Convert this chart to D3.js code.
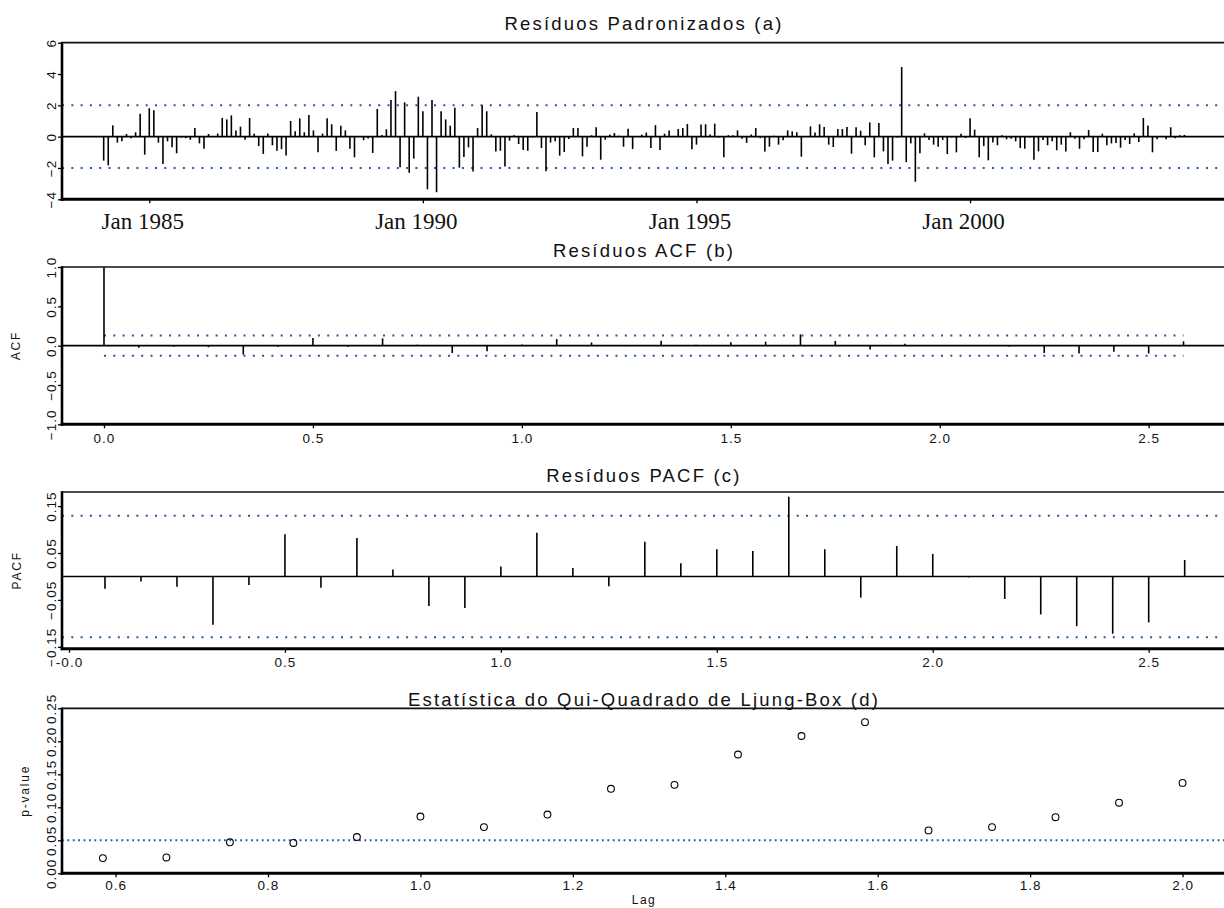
<!DOCTYPE html>
<html>
<head>
<meta charset="utf-8">
<script src="https://cdn.jsdelivr.net/npm/d3@7"></script>
<style>
  html, body { margin: 0; padding: 0; background: #fff; }
  svg { display: block; }
</style>
</head>
<body>
<svg id="chart" width="1224" height="908"></svg>
<script>
// ---------- data ----------
// standardized residuals, monthly, starting March 1984
const seriesStartYear = 1984;
const seriesStartMonth = 3;
const residuals = [
  -1.53, -1.83, 0.72, -0.38, -0.30, 0.17, -0.10, 0.28, 1.47, -1.15,
  1.81, 1.68, -0.38, -1.74, -0.30, -0.68, -1.06, -0.05, -0.10, -0.20,
  0.55, -0.43, -0.77, 0.17, 0.05, 0.20, 1.20, 1.10, 1.36, 0.40,
  0.64, -0.20, 1.19, 0.19, -0.60, -1.10, 0.20, -0.55, -0.90, -0.80,
  -1.20, 1.00, 0.34, 1.17, 0.28, 1.38, 0.40, -1.00, 0.20, 1.17,
  0.79, -0.91, 0.70, 0.40, -0.77, -1.32, -0.02, -0.23, -0.12, -1.04,
  1.77, 0.10, 0.47, 2.34, 2.91, -1.96, 2.19, -2.30, -1.40, 2.55,
  1.62, -3.36, 2.34, -3.55, 1.62, 1.10, 0.70, 1.85, -1.98, -1.30,
  -0.68, -2.23, 0.55, 2.00, 1.62, 0.15, -0.94, -0.90, -1.91, -0.26,
  0.09, -0.47, -0.85, -0.90, -0.05, 1.57, -0.72, -2.21, -0.38, -0.30,
  -1.21, -0.98, -0.15, 0.55, 0.55, -1.26, -0.64, 0.09, 0.60, -1.47,
  -0.20, 0.13, 0.23, 0.06, -0.64, 0.51, -0.79, 0.05, 0.13, 0.26,
  -0.72, 0.74, -0.85, 0.19, 0.40, 0.05, 0.49, 0.55, 0.81, -0.81,
  -0.51, 0.77, 0.79, 0.13, 0.83, -0.05, -1.32, 0.09, 0.09, 0.40,
  -0.13, -0.40, 0.13, 0.55, -0.10, -0.94, -0.64, 0.06, -0.51, -0.23,
  0.40, 0.34, 0.28, -1.28, 0.05, 0.66, 0.26, 0.79, 0.62, -0.51,
  -0.66, 0.49, 0.49, 0.62, -1.09, 0.60, 0.38, -0.55, 0.91, -1.32,
  0.87, -0.94, -1.74, -1.53, -0.05, 4.45, -1.63, -0.43, -2.88, -1.06,
  0.21, -0.21, -0.51, -0.64, -0.21, -1.11, -0.05, -1.00, 0.19, -0.09,
  1.17, 0.45, -1.32, -0.60, -1.51, -0.38, -0.55, 0.09, -0.17, -0.13,
  -0.30, -0.72, -0.77, -0.05, -1.47, -0.94, -0.21, -0.55, -0.30, -0.87,
  -0.51, -0.94, 0.28, -0.13, -0.77, -0.17, 0.43, -0.98, -0.98, 0.19,
  -0.55, -0.43, -0.40, -0.70, -0.21, -0.47, 0.21, -0.34, 1.19, 0.72,
  -1.00, -0.17, 0.05, -0.17, 0.60, -0.10, 0.09, 0.11
];
const residualLimit = 2;
const dateTickYears = [1985, 1990, 1995, 2000];
const residualTicks = [-4, -2, 0, 2, 4, 6];

// autocorrelations of the residuals, lags 0..31 months (in years)
const acfValues = [
  1.0, -0.026, -0.012, -0.020, -0.114, -0.015, 0.097, -0.015, 0.093, 0.012,
  -0.093, -0.070, 0.015, 0.084, 0.040, -0.008, 0.063, 0.012, 0.042, 0.050,
  0.143, 0.060, -0.050, 0.025, 0.006, 0.008, -0.012, -0.093, -0.100, -0.076,
  -0.100, 0.055
];
const acfTicks = [-1, -0.5, 0, 0.5, 1];

// partial autocorrelations, lags 1..31 months
const pacfValues = [
  -0.026, -0.011, -0.022, -0.103, -0.018, 0.090, -0.024, 0.082, 0.015, -0.063,
  -0.067, 0.021, 0.093, 0.018, -0.021, 0.074, 0.028, 0.058, 0.054, 0.170,
  0.058, -0.045, 0.065, 0.048, -0.002, -0.048, -0.081, -0.106, -0.122, -0.098,
  0.035
];
const pacfTicks = [-0.15, -0.05, 0.05, 0.15];
const corrBand = 0.1296;          // 2 / sqrt(n)
const lagTicks = [0, 0.5, 1, 1.5, 2, 2.5];

// Ljung-Box p-values, lags 7..24 months
const lbFirstLag = 7;
const lbPValues = [
  0.023, 0.024, 0.047, 0.046, 0.055, 0.086, 0.070, 0.089, 0.128, 0.134,
  0.180, 0.208, 0.229, 0.065, 0.070, 0.085, 0.107, 0.137
];
const lbLevel = 0.05;
const lbYTicks = [0, 0.05, 0.10, 0.15, 0.20, 0.25];
const lbXTicks = [0.6, 0.8, 1.0, 1.2, 1.4, 1.6, 1.8, 2.0];

const titles = [
  "Resíduos Padronizados (a)",
  "Resíduos ACF (b)",
  "Resíduos PACF (c)",
  "Estatística do Qui-Quadrado de Ljung-Box (d)"
];

// ---------- layout ----------
const svg = d3.select("#chart");
const LEFT = 62, RIGHT = 1226, MID = (LEFT + RIGHT) / 2;
const SANS = "'Liberation Sans', Arial, Helvetica, sans-serif";
const SERIF = "'Liberation Serif', 'Times New Roman', serif";
const BLUE = "#22599a";

svg.append("rect").attr("width", 1224).attr("height", 908).attr("fill", "#fff");

function frame(top, bottom) {
  const g = svg.append("g");
  g.append("line").attr("x1", LEFT).attr("x2", RIGHT).attr("y1", top).attr("y2", top)
    .attr("stroke", "#111").attr("stroke-width", 1.7);
  g.append("line").attr("x1", LEFT).attr("x2", LEFT).attr("y1", top - 0.8).attr("y2", bottom + 1.5)
    .attr("stroke", "#000").attr("stroke-width", 2.6);
  g.append("line").attr("x1", LEFT - 1.3).attr("x2", RIGHT).attr("y1", bottom).attr("y2", bottom)
    .attr("stroke", "#000").attr("stroke-width", 3);
}

function title(text, y) {
  svg.append("text").attr("x", MID).attr("y", y).attr("text-anchor", "middle")
    .attr("font-family", SANS).attr("font-size", 18.5).attr("letter-spacing", 2.2)
    .attr("fill", "#111").text(text);
}

function leftAxis(scale, values, fmt) {
  const g = svg.append("g").attr("transform", `translate(${LEFT},0)`)
    .call(d3.axisLeft(scale).tickValues(values).tickFormat(fmt).tickSize(4).tickPadding(0));
  g.select(".domain").remove();
  g.selectAll(".tick line").attr("stroke", "#000").attr("stroke-width", 1.3);
  g.selectAll(".tick text")
    .attr("x", 0).attr("dy", null).attr("y", -6)
    .attr("transform", "rotate(-90)")
    .attr("text-anchor", "middle")
    .attr("font-family", SANS).attr("font-size", 13.5).attr("letter-spacing", 1)
    .attr("fill", "#111");
  return g;
}

function bottomAxis(scale, y, values, fmt, baseline, font) {
  const g = svg.append("g").attr("transform", `translate(0,${y})`)
    .call(d3.axisBottom(scale).tickValues(values).tickFormat(fmt).tickSize(4).tickPadding(0));
  g.select(".domain").remove();
  g.selectAll(".tick line").attr("stroke", "#000").attr("stroke-width", 1.3);
  g.selectAll(".tick text")
    .attr("dy", null).attr("y", baseline - y)
    .attr("text-anchor", "middle")
    .attr("font-family", font.family).attr("font-size", font.size)
    .attr("letter-spacing", font.spacing || 0)
    .attr("fill", "#111");
  return g;
}

function hLine(x1, x2, y, dash, color, width) {
  svg.append("line").attr("x1", x1).attr("x2", x2).attr("y1", y).attr("y2", y)
    .attr("stroke", color).attr("stroke-width", width)
    .attr("stroke-dasharray", dash);
}

function yLabel(text, x, y) {
  svg.append("text").attr("transform", `translate(${x},${y}) rotate(-90)`)
    .attr("text-anchor", "middle").attr("font-family", SANS).attr("font-size", 12)
    .attr("letter-spacing", 1.8).attr("fill", "#111").text(text);
}

// ---------- (a) standardized residuals ----------
const yearOf = i => seriesStartYear + (seriesStartMonth - 1) / 12 + i / 12;
const xA = d3.scaleLinear().domain([1983.405, 2004.677]).range([LEFT, RIGHT]);
const yA = d3.scaleLinear().domain([-4, 6]).range([199.3, 42.7]);

title(titles[0], 29.5);
hLine(LEFT, RIGHT, yA(0), null, "#000", 1.6);
hLine(LEFT, RIGHT, yA(residualLimit), "2,7.3", BLUE, 2);
hLine(LEFT, RIGHT, yA(-residualLimit), "2,7.3", BLUE, 2);
svg.append("g").selectAll("line").data(residuals).join("line")
  .attr("x1", (d, i) => xA(yearOf(i))).attr("x2", (d, i) => xA(yearOf(i)))
  .attr("y1", yA(0)).attr("y2", d => yA(d))
  .attr("stroke", "#000").attr("stroke-width", 1.6);
frame(42.7, 199.3);
leftAxis(yA, residualTicks, d3.format("d"));
bottomAxis(xA, 199.3, dateTickYears, d => "Jan " + d, 229.5,
  { family: SERIF, size: 23 })
  .selectAll(".tick text").attr("x", -7);

// ---------- (b) ACF ----------
const xB = d3.scaleLinear().domain([-0.1005, 2.685]).range([LEFT, RIGHT]);
const yB = d3.scaleLinear().domain([-1, 1]).range([424.3, 267]);
const acfLags = acfValues.map((d, i) => i / 12);

title(titles[1], 256.7);
hLine(LEFT, RIGHT, yB(0), null, "#000", 1.6);
hLine(xB(0), xB(acfLags[acfLags.length - 1]), yB(corrBand), "2,7.3", BLUE, 2);
hLine(xB(0), xB(acfLags[acfLags.length - 1]), yB(-corrBand), "2,7.3", BLUE, 2);
svg.append("g").selectAll("line").data(acfValues).join("line")
  .attr("x1", (d, i) => xB(acfLags[i])).attr("x2", (d, i) => xB(acfLags[i]))
  .attr("y1", yB(0)).attr("y2", d => yB(d))
  .attr("stroke", "#000").attr("stroke-width", 1.6);
frame(267, 424.3);
leftAxis(yB, acfTicks, d3.format(".1f"));
bottomAxis(xB, 424.3, lagTicks, d3.format(".1f"), 442.7,
  { family: SANS, size: 13.5, spacing: 1 });
yLabel("ACF", 20, (267 + 424.3) / 2);

// ---------- (c) PACF ----------
const xC = d3.scaleLinear().domain([-0.0162, 2.679]).range([LEFT, RIGHT]);
const yC = d3.scaleLinear().domain([-0.154, 0.180]).range([648.7, 492]);
const pacfLags = pacfValues.map((d, i) => (i + 1) / 12);

title(titles[2], 482);
hLine(LEFT, RIGHT, yC(0), null, "#000", 1.6);
hLine(LEFT, RIGHT, yC(corrBand), "2,7.3", BLUE, 2);
hLine(LEFT, RIGHT, yC(-corrBand), "2,7.3", BLUE, 2);
svg.append("g").selectAll("line").data(pacfValues).join("line")
  .attr("x1", (d, i) => xC(pacfLags[i])).attr("x2", (d, i) => xC(pacfLags[i]))
  .attr("y1", yC(0)).attr("y2", d => yC(d))
  .attr("stroke", "#000").attr("stroke-width", 1.6);
frame(492, 648.7);
leftAxis(yC, pacfTicks, d3.format(".2f"));
bottomAxis(xC, 648.7, lagTicks, d => d === 0 ? "-0.0" : d3.format(".1f")(d), 667,
  { family: SANS, size: 13.5, spacing: 1 });
yLabel("PACF", 20.5, (492 + 648.7) / 2);

// ---------- (d) Ljung-Box p-values ----------
const xD = d3.scaleLinear().domain([0.5297, 2.057]).range([LEFT, RIGHT]);
const yD = d3.scaleLinear().domain([0, 0.25]).range([873.3, 708.3]);
const lbLags = lbPValues.map((d, i) => (i + lbFirstLag) / 12);

title(titles[3], 706.3);
hLine(LEFT, RIGHT, yD(lbLevel), "1.8,3.6", BLUE, 2);
svg.append("g").selectAll("circle").data(lbPValues).join("circle")
  .attr("cx", (d, i) => xD(lbLags[i])).attr("cy", d => yD(d)).attr("r", 3.4)
  .attr("fill", "none").attr("stroke", "#000").attr("stroke-width", 1.1);
frame(708.3, 873.3);
leftAxis(yD, lbYTicks, d3.format(".2f"));
bottomAxis(xD, 873.3, lbXTicks, d3.format(".1f"), 890,
  { family: SANS, size: 13.5, spacing: 1 });
yLabel("p-value", 28.5, (708.3 + 873.3) / 2);
svg.append("text").attr("x", MID).attr("y", 904).attr("text-anchor", "middle")
  .attr("font-family", SANS).attr("font-size", 12).attr("letter-spacing", 1.5)
  .attr("fill", "#111").text("Lag");
</script>
</body>
</html>
